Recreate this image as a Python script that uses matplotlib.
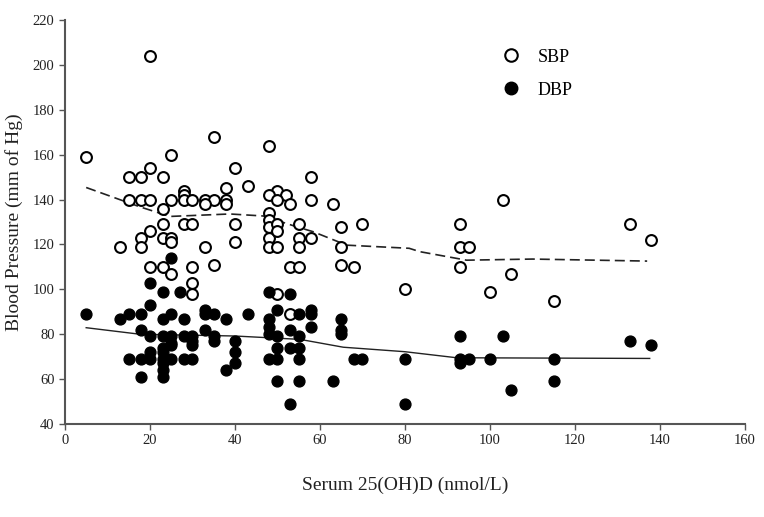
import matplotlib
matplotlib.use('Agg')
import matplotlib.pyplot as plt
from matplotlib.lines import Line2D

plt.rcParams['font.family'] = ['Liberation Serif', 'DejaVu Serif']

# SBP points (open circles): serum 25(OH)D, mm Hg
sbp_x = [5, 20, 35, 48, 25, 20, 40, 15, 18, 23, 58, 28, 28, 38, 43, 50, 48, 52,
         15, 18, 20, 25, 28, 30, 33, 35, 38, 50, 58, 33, 38, 53, 63, 23, 48, 48,
         48, 48, 48, 50, 50, 50, 40, 40, 55, 55, 55, 58, 65, 70, 65, 23, 28, 30,
         20, 18, 23, 25, 25, 13, 18, 33, 35, 20, 23, 25, 30, 30, 30, 53, 55, 65,
         68, 50, 53, 80, 103, 93, 93, 95, 93, 105, 100, 115, 133, 138]
sbp_y = [159, 204, 168, 164, 160, 154, 154, 150, 150, 150, 150, 144, 142, 145, 146, 144, 142, 142,
         140, 140, 140, 140, 140, 140, 140, 140, 140, 140, 140, 138, 138, 138, 138, 136, 134, 131,
         128, 123, 119, 129, 126, 119, 129, 121, 129, 123, 119, 123, 128, 129, 119, 129, 129, 129,
         126, 123, 123, 123, 121, 119, 119, 119, 111, 110, 110, 107, 110, 103, 98, 110, 110, 111,
         110, 98, 89, 100, 140, 129, 119, 119, 110, 107, 99, 95, 129, 122]

# DBP points (filled circles)
dbp_x = [25, 20, 23, 27, 20, 5, 13, 15, 18, 23, 25, 28, 33, 33, 35, 38, 18, 20, 23, 25,
         25, 25, 28, 30, 30, 30, 33, 35, 35, 40, 40, 40, 23, 23, 23, 23, 23, 23, 20, 15,
         18, 20, 25, 28, 30, 18, 38, 48, 53, 43, 50, 55, 58, 58, 48, 48, 48, 50, 53, 55,
         58, 65, 65, 65, 53, 50, 55, 48, 50, 55, 68, 70, 80, 50, 55, 63, 53, 80, 93, 103,
         93, 93, 95, 100, 115, 115, 105, 133, 138]
dbp_y = [114, 103, 99, 99, 93, 89, 87, 89, 89, 87, 89, 87, 91, 89, 89, 87, 82, 79, 79, 79,
         76, 75, 79, 79, 77, 75, 82, 79, 77, 77, 72, 67, 74, 72, 69, 67, 64, 61, 72, 69,
         69, 69, 69, 69, 69, 61, 64, 99, 98, 89, 91, 89, 91, 89, 87, 83, 80, 79, 82, 79,
         83, 87, 82, 80, 74, 74, 74, 69, 69, 69, 69, 69, 69, 59, 59, 59, 49, 49, 79, 79,
         69, 67, 69, 69, 69, 59, 55, 77, 75]

# smoothed trend lines
sbp_fit_x = [5, 17.6, 24.7, 38.8, 46.7, 54.5, 58.4, 66.3, 81, 83.5, 94.5, 110, 137]
sbp_fit_y = [145.4, 136.8, 132.5, 133.6, 132.7, 127.9, 125.7, 119.7, 118.3, 116.8, 113, 113.5, 112.6]
dbp_fit_x = [5, 17.6, 40, 55.3, 65.5, 80, 92.2, 137.6]
dbp_fit_y = [82.9, 80, 79.2, 77.7, 74.2, 72.2, 69.5, 69.2]

fig = plt.figure(figsize=(7.64, 5.17), dpi=100)
ax = fig.add_axes([0.085, 0.18, 0.89, 0.781])

ax.plot(sbp_fit_x, sbp_fit_y, color='#222222', lw=1.2, ls=(0, (6, 3)))
ax.plot(dbp_fit_x, dbp_fit_y, color='#222222', lw=1.0)

ax.plot(sbp_x, sbp_y, 'o', ms=7.8, mfc='white', mec='black', mew=1.5, ls='none')
ax.plot(dbp_x, dbp_y, 'o', ms=7.8, mfc='black', mec='black', mew=1.0, ls='none')

ax.set_xlim(0, 160)
ax.set_ylim(40, 220)
ax.set_xticks(range(0, 161, 20))
ax.set_yticks(range(40, 221, 20))
for side in ['top', 'right']:
    ax.spines[side].set_visible(False)
for side in ['left', 'bottom']:
    ax.spines[side].set_color('#555555')
    ax.spines[side].set_linewidth(1.5)
ax.tick_params(direction='out', length=4, width=1, colors='#555555',
               labelcolor='#222222', labelsize=10.5)

ax.set_xlabel('Serum 25(OH)D (nmol/L)', fontsize=14, color='#222222')
ax.xaxis.set_label_coords(0.5, -0.13)
ax.set_ylabel('Blood Pressure (mm of Hg)', fontsize=14, color='#222222')
ax.yaxis.set_label_coords(-0.062, 0.5)

handles = [Line2D([], [], marker='o', ls='none', ms=9, mfc='white', mec='black', mew=1.5),
           Line2D([], [], marker='o', ls='none', ms=9, mfc='black', mec='black')]
ax.legend(handles, ['SBP', 'DBP'], loc='upper left', bbox_to_anchor=(0.605, 0.97),
          frameon=False, fontsize=13, handletextpad=0.5, labelspacing=0.9)

fig.savefig('out.png', dpi=100)
plt.close(fig)
